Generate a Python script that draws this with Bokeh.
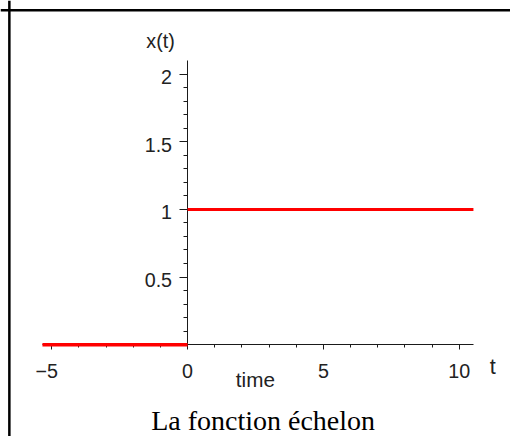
from bokeh.plotting import figure
from bokeh.models import Range1d, FixedTicker, Label, LabelSet, Span, ColumnDataSource
from bokeh.core.properties import value
from bokeh.embed import file_html
from bokeh.resources import INLINE

# ---- data ----
t_off = [-5.34, 0.0]
x_off = [0.0, 0.0]
t_on = [0.0, 10.52]
x_on = [1.0, 1.0]

x_major = [-5, 0, 5, 10]
x_minor = [-4, -3, -2, -1, 1, 2, 3, 4, 6, 7, 8, 9]
y_major = [0.5, 1, 1.5, 2]
y_major_labels = ["0.5", "1", "1.5", "2"]
y_minor = [0.1, 0.2, 0.3, 0.4, 0.6, 0.7, 0.8, 0.9,
           1.1, 1.2, 1.3, 1.4, 1.6, 1.7, 1.8, 1.9]
x_axis_extent = (-5.34, 10.52)
y_axis_extent = (0, 2.1)

title_text = "La fonction échelon"
y_label = "x(t)"
x_label = "t"
x_sub_label = "time"

# ---- layout ----
W, H = 510, 436
X0, X1 = -6.884, 11.884
Y0, Y1 = -0.6788, 2.5445

p = figure(width=W, height=H, output_backend="svg", toolbar_location=None,
           x_range=Range1d(X0, X1), y_range=Range1d(Y0, Y1),
           min_border=0, min_border_left=0, min_border_right=0,
           min_border_top=0, min_border_bottom=0)
p.outline_line_color = None
p.xgrid.visible = False
p.ygrid.visible = False
p.background_fill_color = "white"
p.border_fill_color = "white"

tick_font = "Liberation Sans"
for ax in (p.xaxis[0], p.yaxis[0]):
    ax.fixed_location = 0
    ax.axis_line_color = "#1a1a1a"
    ax.axis_line_width = 1
    ax.major_tick_line_color = "#1a1a1a"
    ax.minor_tick_line_color = "#1a1a1a"
    ax.major_tick_in = 0
    ax.minor_tick_in = 0
    ax.major_label_text_font = tick_font
    ax.major_label_text_font_size = "19.7px"
    ax.major_label_text_color = "#222222"

p.xaxis.ticker = FixedTicker(ticks=x_major, minor_ticks=x_minor)
p.xaxis.bounds = x_axis_extent
p.xaxis.major_tick_out = 5
p.xaxis.minor_tick_out = 3
p.xaxis.major_label_standoff = 10
# minus sign hangs left of the centred digit
p.xaxis.major_label_overrides = {-5: "\u22125\u2002"}

p.yaxis.ticker = FixedTicker(ticks=y_major, minor_ticks=y_minor)
p.yaxis.bounds = y_axis_extent
p.yaxis.major_tick_out = 8
p.yaxis.minor_tick_out = 4
p.yaxis.major_label_text_alpha = 0  # labels drawn by the LabelSet below

ysrc = ColumnDataSource(dict(y=y_major, label=y_major_labels,
                             x=[0] * len(y_major)))
p.add_layout(LabelSet(x="x", y="y", text="label", source=ysrc,
                      x_offset=-15.5, y_offset=-3,
                      text_align="right", text_baseline="middle",
                      text_font=value(tick_font),
                      text_font_size=value("19.7px"),
                      text_color="#222222"))

r1 = p.line(t_off, x_off, line_color="#ff0000", line_width=3.5)
r2 = p.line(t_on, x_on, line_color="#ff0000", line_width=3)
r1.level = "overlay"
r2.level = "overlay"

# frame (left and top edges visible)
p.add_layout(Span(location=X0 + 9 / 27.6, dimension="height",
                  line_color="black", line_width=2.5))
p.add_layout(Span(location=Y1 - 10 / 137.75, dimension="width",
                  line_color="black", line_width=2.5))

# texts
p.add_layout(Label(x=-0.996, y=2.2425, text=y_label, text_align="center",
                   text_baseline="middle", text_font=tick_font,
                   text_font_size="19.7px", text_color="#222222"))
p.add_layout(Label(x=11.23, y=-0.159, text=x_label, text_align="center",
                   text_baseline="middle", text_font=tick_font,
                   text_font_size="21.6px", text_color="#222222"))
p.add_layout(Label(x=1.775, y=-0.2577, text=x_sub_label, text_align="left",
                   text_baseline="middle", text_font=tick_font,
                   text_font_size="20.7px", text_color="#222222"))
p.add_layout(Label(x=2.779, y=-0.5604, text=title_text, text_align="center",
                   text_baseline="middle", text_font="Liberation Serif",
                   text_font_size="28px", text_color="black"))

open("out.html", "w").write(file_html(p, INLINE))
